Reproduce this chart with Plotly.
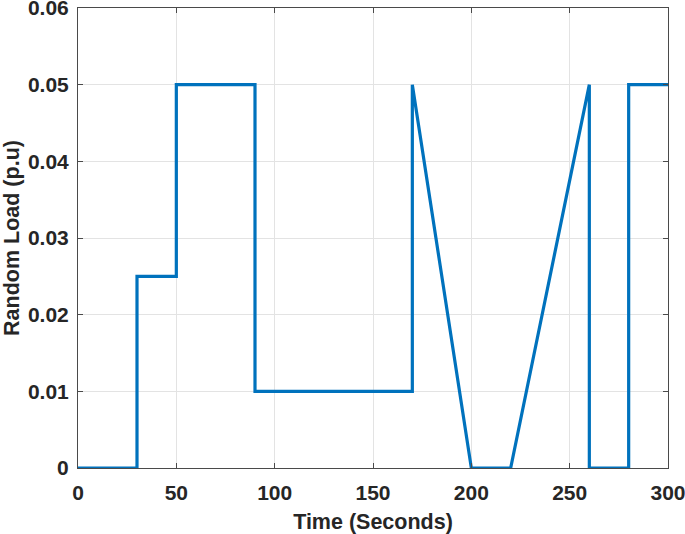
import plotly.graph_objects as go

time_s = [0, 30, 30, 50, 50, 90, 90, 170, 170, 200, 220, 260, 260, 280, 280, 300]
load_pu = [0, 0, 0.025, 0.025, 0.05, 0.05, 0.01, 0.01, 0.05, 0, 0, 0.05, 0, 0, 0.05, 0.05]

x_ticks = [0, 50, 100, 150, 200, 250, 300]
y_ticks = [0, 0.01, 0.02, 0.03, 0.04, 0.05, 0.06]
y_tick_text = ["0", "0.01", "0.02", "0.03", "0.04", "0.05", "0.06"]

fig = go.Figure()
fig.add_trace(go.Scatter(x=time_s, y=load_pu, mode="lines",
                         line=dict(color="#0072BD", width=3.2), showlegend=False))

axis_common = dict(
    showline=True, linecolor="#4a4a4a", linewidth=1, mirror="ticks",
    ticks="inside", ticklen=5, tickcolor="#4a4a4a",
    showgrid=True, gridcolor="#e3e3e3", gridwidth=1, zeroline=False,
    tickfont=dict(family="Liberation Sans, Arial", size=21, color="#262626"),
    automargin=False, ticklabeloverflow="allow",
)

fig.update_layout(
    width=685, height=534,
    margin=dict(l=78, r=17, t=8, b=66),
    paper_bgcolor="white", plot_bgcolor="white",
    font=dict(family="Liberation Sans, Arial", color="#262626"),
    xaxis=dict(range=[0, 300], tickvals=x_ticks,
               ticktext=["<b>%d</b>" % v for v in x_ticks],
               ticklabelstandoff=6,
               title=dict(text="<b>Time (Seconds)</b>", font=dict(size=21.5), standoff=14),
               **axis_common),
    yaxis=dict(range=[0, 0.06], tickvals=y_ticks,
               ticktext=["<b>" + t + "</b>" for t in y_tick_text],
               ticklabelstandoff=4,
               title=dict(text="<b>Random Load (p.u)</b>", font=dict(size=21.5), standoff=6),
               **axis_common),
)

fig.write_html("out.html", config={"displayModeBar": False},
               post_script="document.body.style.margin='0px';")
